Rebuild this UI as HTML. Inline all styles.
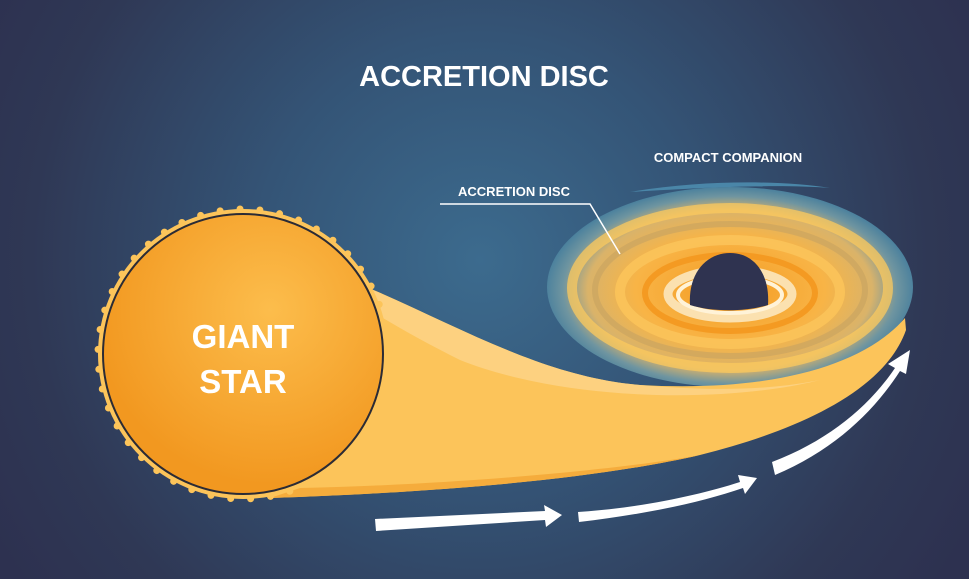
<!DOCTYPE html>
<html><head><meta charset="utf-8"><style>
html,body{margin:0;padding:0;width:969px;height:579px;overflow:hidden;background:#2f3552}
svg{display:block}
text{font-family:"Liberation Sans",sans-serif;font-weight:bold;fill:#fff}
</style></head><body>
<svg width="969" height="579" viewBox="0 0 969 579">
<defs>
<radialGradient id="bg" cx="480" cy="260" r="560" gradientUnits="userSpaceOnUse">
<stop offset="0" stop-color="#3c6b8e"/><stop offset="0.4" stop-color="#345476"/><stop offset="0.8" stop-color="#2f3855"/><stop offset="1" stop-color="#2d3150"/>
</radialGradient>
<radialGradient id="star" cx="270" cy="310" r="175" gradientUnits="userSpaceOnUse">
<stop offset="0" stop-color="#fcbd4c"/><stop offset="1" stop-color="#f29820"/>
</radialGradient>
<radialGradient id="disc" cx="730" cy="290" r="190" gradientTransform="translate(730 290) scale(1 0.56) translate(-730 -290)" gradientUnits="userSpaceOnUse">
<stop offset="0.2" stop-color="#f6a530"/><stop offset="0.5" stop-color="#f8b446"/><stop offset="0.75" stop-color="#d9b36a"/><stop offset="0.88" stop-color="#6f95a0"/><stop offset="1" stop-color="#3f7a9c"/>
</radialGradient>
</defs>
<rect width="969" height="579" fill="url(#bg)"/>
<text x="484" y="86" font-size="29" text-anchor="middle">ACCRETION DISC</text>
<text x="728" y="162" font-size="13" text-anchor="middle">COMPACT COMPANION</text>
<text x="514" y="196" font-size="13" text-anchor="middle">ACCRETION DISC</text>
<ellipse cx="730" cy="287" rx="183" ry="100" fill="url(#disc)"/>
<path d="M630 192 C700 180 780 180 830 188 C780 184 710 187 630 192Z" fill="#4a86a8"/>
<g fill="none" stroke-linecap="round">
<ellipse cx="730" cy="288" rx="158" ry="80" stroke="#fcc95e" stroke-width="10" opacity="0.75"/>
<ellipse cx="730" cy="290" rx="135" ry="66" stroke="#c6a261" stroke-width="6" opacity="0.6"/>
<ellipse cx="730" cy="292" rx="110" ry="52" stroke="#fbc35a" stroke-width="10" opacity="0.9"/>
<ellipse cx="730" cy="293" rx="85" ry="38" stroke="#f49a22" stroke-width="6"/>
<ellipse cx="730" cy="294" rx="62" ry="24" stroke="#fbe1b0" stroke-width="9"/>
<ellipse cx="730" cy="295" rx="52" ry="18" stroke="#fff3d8" stroke-width="4"/>
</g>
<path d="M690 305 C688 275 705 253 730 253 C755 253 770 275 768 305 C745 312 712 312 690 305Z" fill="#2f3350"/>
<path d="M300 262 C420 300 520 375 640 385 C760 392 860 370 905 318 L906 330 C885 390 800 430 700 455 C600 478 450 492 270 498 Z" fill="#fcc45a"/>
<path d="M300 262 C420 300 520 375 640 385 C700 390 760 392 820 380 C720 405 560 400 460 360 C400 330 350 300 300 262Z" fill="#fdd58a" opacity="0.8"/>
<path d="M270 498 C450 492 600 478 700 455 C620 470 450 485 300 488Z" fill="#f5ac3c"/>
<circle cx="243" cy="354" r="145" fill="#fcc45a"/>
<circle cx="243" cy="354" r="145" fill="none" stroke="#fcc45a" stroke-width="7" stroke-linecap="round" stroke-dasharray="0 20"/>
<circle cx="243" cy="354" r="140" fill="url(#star)" stroke="#2b2b35" stroke-width="2"/>
<text x="243" y="348" font-size="33" text-anchor="middle">GIANT</text>
<text x="243" y="393" font-size="33" text-anchor="middle">STAR</text>
<polyline points="440,204 590,204 620,254" fill="none" stroke="#fff" stroke-width="1.5"/>
<g fill="#fff">
<path d="M375 519 L545 511 L544 505 L562 515 L546 527 L545 520 L376 531Z"/>
<path d="M578 512 C640 508 700 495 740 482 L738 475 L757 478 L745 494 L743 488 C700 503 640 515 579 522Z"/>
<path d="M772 462 C830 440 870 405 895 368 L888 364 L910 350 L906 374 L900 371 C875 410 835 450 775 475Z"/>
</g>
</svg>
</body></html>
